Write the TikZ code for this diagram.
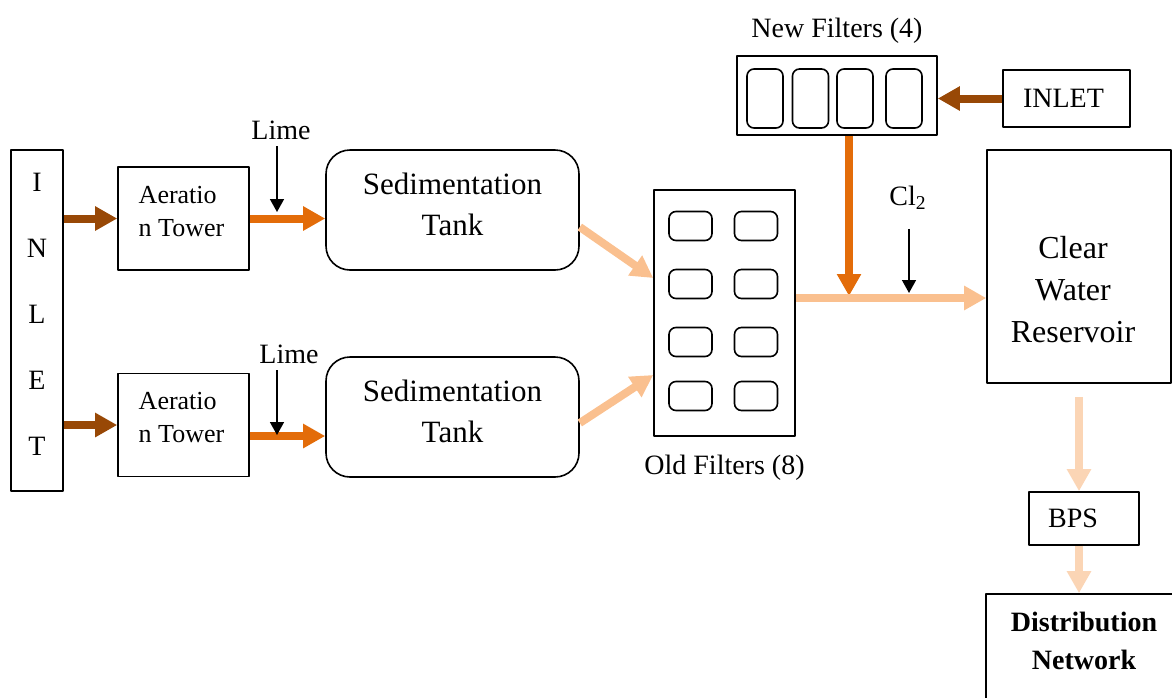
\documentclass[tikz,border=0pt]{standalone}
\usepackage{fontspec}
\setmainfont{Liberation Serif}
\usetikzlibrary{arrows.meta}
\definecolor{rust}{HTML}{984806}
\definecolor{burnt}{HTML}{E36C09}
\definecolor{peach}{HTML}{FAC08F}
\definecolor{cream}{HTML}{FBD5B5}
\begin{document}
\begin{tikzpicture}[x=0.5pt,y=-0.5pt,font=\fontsize{14}{17}\selectfont,line join=round]
\tikzset{box/.style={draw,line width=0.8pt,inner sep=0pt},
	tank/.style={box,rounded corners=12pt,minimum width=126.5pt,minimum height=60pt,
		label={[yshift=2.75pt,align=center,font=\fontsize{15.5}{20.5}\selectfont]center:Sedimentation\\Tank}},
	tower/.style={box,minimum width=65.5pt,minimum height=51.5pt,
		label={[yshift=3.5pt,xshift=-1pt,align=left,font=\fontsize{13}{16.5}\selectfont]center:Aeratio\\n Tower}},
	cell/.style={draw,line width=0.8pt,rounded corners=3.5pt,inner sep=0pt},
	flow/.style={line width=4pt,-{Triangle[length=11pt,width=11.5pt]}},
	dose/.style={line width=0.75pt,-{Triangle[length=6.5pt,width=7pt]}}}
\useasboundingbox (0,0) rectangle (1172,697);
\node[box,minimum width=26pt,minimum height=170.5pt,label={[yshift=3pt,align=center,font=\fontsize{14}{33}\selectfont]center:I\\N\\L\\E\\T}] (inlet) at (37,320.5) {};
\node[tower] (tower1) at (183.5,218.5) {};
\node[tower] (tower2) at (183.5,425) {};
\node[tank] (sed1) at (452.5,210) {};
\node[tank] (sed2) at (452.5,417) {};
\node[box,minimum width=70.5pt,minimum height=123pt,label={[yshift=-5.5pt]below:Old Filters (8)}] (oldf) at (724.5,313) {};
\foreach \y [count=\r] in {226,284,342,396}
	\foreach \x [count=\c] in {690.5,756}
		\node[cell,minimum width=21.5pt,minimum height=14.5pt] (oldf-\r\c) at (\x,\y) {};
\node[box,minimum width=100pt,minimum height=39.5pt,label={[yshift=2.5pt]above:New Filters (4)}] (newf) at (837,95.5) {};
\foreach \x [count=\c] in {765,810.5,855,904}
	\node[cell,minimum width=18pt,minimum height=29.5pt] (newf-\c) at (\x,98.5) {};
\node[box,minimum width=63.5pt,minimum height=28.5pt,label={[xshift=-1.5pt]center:INLET}] (inlet2) at (1066.5,98.5) {};
\node[box,minimum width=92pt,minimum height=116.5pt,label={[xshift=-3pt,yshift=-11.75pt,align=center,font=\fontsize{16}{21}\selectfont]center:Clear\\Water\\Reservoir}] (cwr) at (1079,266.5) {};
\node[box,minimum width=55pt,minimum height=26.5pt,label={[xshift=-5.5pt]center:BPS}] (bps) at (1084,518.5) {};
\node[box,minimum width=102pt,minimum height=63pt,label={[xshift=-2pt,yshift=8pt,align=center,font=\fontsize{14}{19}\selectfont\bfseries]center:Distribution\\Network}] (dist) at (1088,657) {};
\node (lime1) at (281,130) {Lime};
\node (lime2) at (289,354) {Lime};
\node (cl) at (908,198) {Cl\textsubscript{2}};
\coordinate (dose1) at (277,212);
\coordinate (dose2) at (277,435);
\coordinate (dose3) at (909,293);
\coordinate (mix) at (849,296);
\draw[flow,rust] (inlet.east |- tower1) -- (tower1);
\draw[flow,rust] (inlet.east |- tower2) -- (tower2);
\draw[flow,burnt] (tower1) -- (tower1 -| sed1.west);
\draw[flow,burnt] ([yshift=-5.5pt]tower2.east) -- ([yshift=-5.5pt]tower2.east -| sed2.west);
\draw[dose] (lime1.south -| dose1) -- (dose1);
\draw[dose] (lime2.south -| dose2) -- (dose2);
\draw[flow,peach] ([yshift=-8.5pt]sed1.east) -- ([yshift=17.5pt]oldf.west);
\draw[flow,peach] ([yshift=-3pt]sed2.east) -- ([yshift=-31pt]oldf.west);
\draw[flow,rust] (inlet2) -- (inlet2 -| newf.east);
\draw[flow,burnt] (newf.south -| mix) -- (mix);
\draw[flow,peach] ([yshift=7.5pt]oldf.east) -- ([yshift=7.5pt]oldf.east -| cwr.west);
\draw[dose] ([yshift=-6pt]cl.south -| dose3) -- (dose3);
\draw[flow,cream] ([yshift=-6.5pt]cwr.south) -- (cwr.south |- bps.north);
\draw[flow,cream] (cwr.south |- bps.south) -- (cwr.south |- dist.north);
\end{tikzpicture}
\end{document}
